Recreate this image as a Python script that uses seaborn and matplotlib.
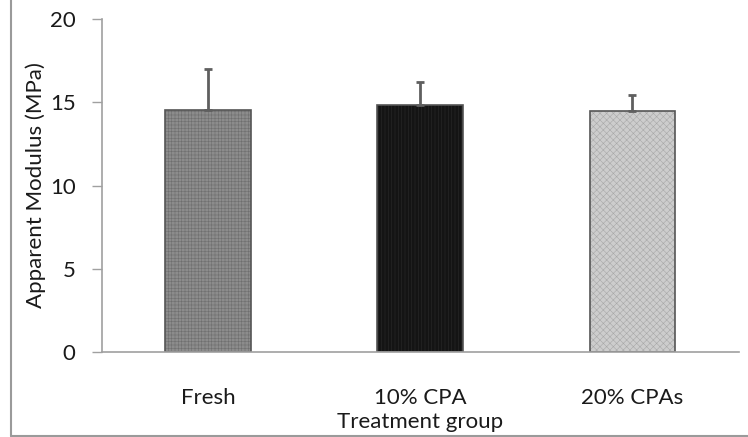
import matplotlib
matplotlib.use("Agg")
import matplotlib.pyplot as plt
import seaborn as sns
import pandas as pd

groups = ["Fresh", "10% CPA", "20% CPAs"]
modulus = [14.53, 14.85, 14.49]
modulus_sd = [2.46, 1.38, 0.96]
y_ticks = [0, 5, 10, 15, 20]

sns.set_style("white")
plt.rcParams["font.family"] = ["Lato", "DejaVu Sans"]
plt.rcParams["hatch.linewidth"] = 0.4

df = pd.DataFrame({"group": groups, "modulus": modulus})

fig = plt.figure(figsize=(7.48, 4.37), dpi=100)
ax = fig.add_axes([0.1364, 0.1945, 0.851, 0.762])

face = ["#8c8c8c", "#141414", "#cdcdcd"]
hatch_col = ["#6e6e6e", "#2a2a2a", "#a8a8a8"]
hatches = ["+++++", "|||||", "xxxxx"]

sns.barplot(data=df, x="group", y="modulus", hue="group", palette=face,
            width=0.405, errorbar=None, legend=False, ax=ax,
            edgecolor="#555555", linewidth=1.2)

for patch, hc, h in zip(ax.patches, hatch_col, hatches):
    patch.set_hatch(h)
    patch._hatch_color = matplotlib.colors.to_rgba(hc)

ax.errorbar(range(len(groups)), modulus,
            yerr=[[0] * len(groups), modulus_sd],
            fmt="none", ecolor="#5f5f5f", elinewidth=2, capsize=3, capthick=2)

ax.set_xlim(-0.5, 2.5)
ax.set_ylim(0, 20)
ax.set_yticks(y_ticks)
ax.set_xticks(range(len(groups)))
ax.set_xticks([-0.5, 0.5, 1.5, 2.5], minor=True)
ax.tick_params(axis="x", which="major", length=0, pad=26, labelsize=16, labelcolor="#1a1a1a")
ax.tick_params(axis="x", which="minor", length=8, width=1, color="#a0a0a0", direction="out")
ax.tick_params(axis="y", length=7, width=1, color="#a0a0a0", direction="out",
               labelsize=16, labelcolor="#1a1a1a", pad=12, left=True)

for side in ["top", "right"]:
    ax.spines[side].set_visible(False)
for side in ["left", "bottom"]:
    ax.spines[side].set_color("#a0a0a0")
    ax.spines[side].set_linewidth(1.2)

ax.set_xlabel("Treatment group", fontsize=16, color="#1a1a1a")
ax.xaxis.label.set_va("baseline")
ax.xaxis.set_label_coords(0.5, -0.228)
ax.set_ylabel("Apparent Modulus (MPa)", fontsize=16, color="#1a1a1a", labelpad=3)

# outer chart frame
fig.add_artist(plt.Line2D([11 / 748, 11 / 748], [1.5 / 437, 1.0], color="#9a9a9a", lw=1.5))
fig.add_artist(plt.Line2D([11 / 748, 1.0], [1.5 / 437, 1.5 / 437], color="#9a9a9a", lw=1.5))

fig.savefig("out.png", dpi=100)
